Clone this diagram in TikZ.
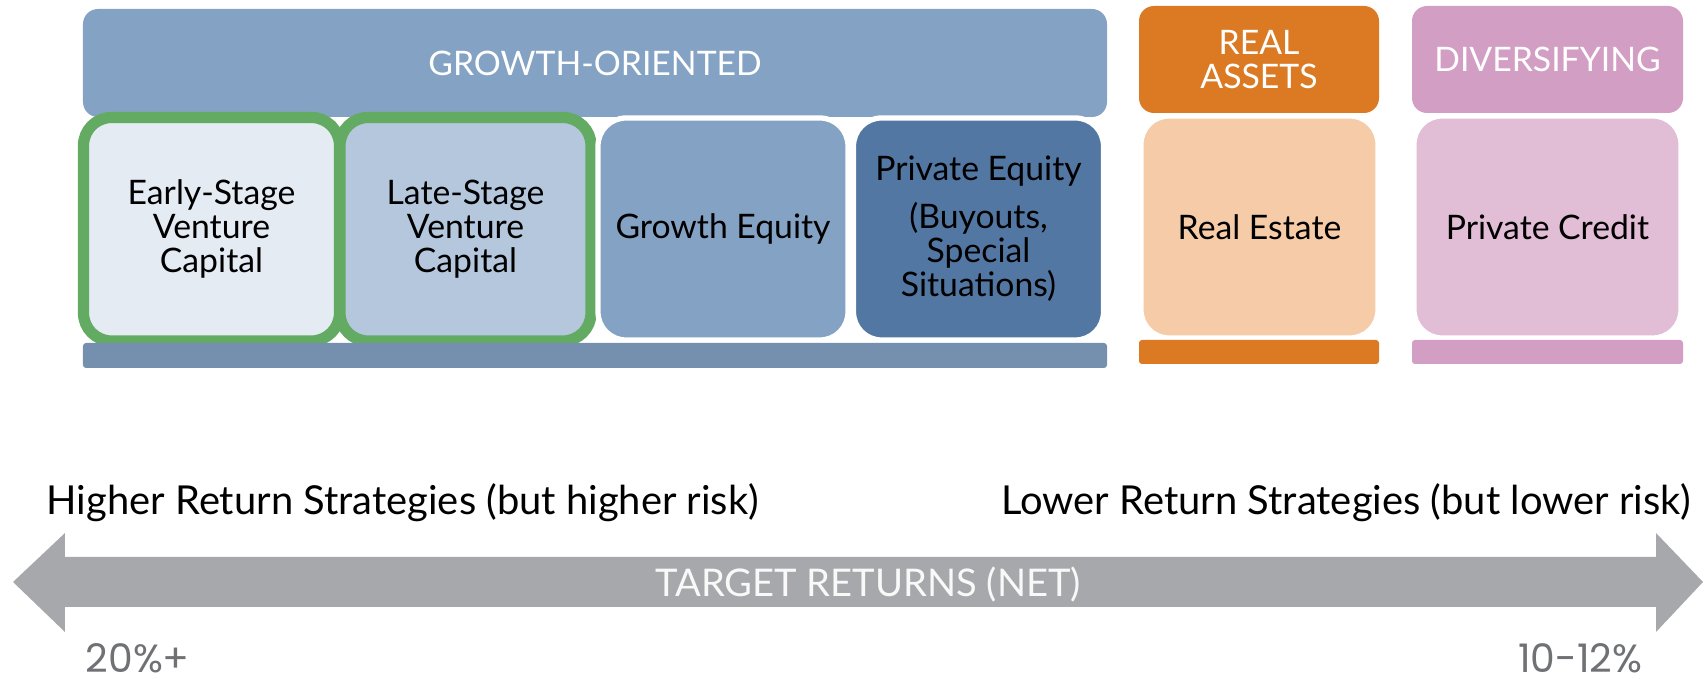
\documentclass[tikz,border=0pt]{standalone}
\usepackage{fontspec}
\setmainfont{Lato}
\newfontfamily\pctfont{Poppins}

\definecolor{growthblue}{HTML}{84A2C4}
\definecolor{growthbar}{HTML}{7490AE}
\definecolor{earlyfill}{HTML}{E4EBF3}
\definecolor{latefill}{HTML}{B4C7DC}
\definecolor{vcgreen}{HTML}{63AB63}
\definecolor{peblue}{HTML}{5277A3}
\definecolor{realorange}{HTML}{DB7A22}
\definecolor{realfill}{HTML}{F6CBA7}
\definecolor{divpink}{HTML}{D39EC3}
\definecolor{divfill}{HTML}{E2BDD6}
\definecolor{arrowgray}{HTML}{A7A8AB}
\definecolor{pctgray}{HTML}{707175}

\tikzset{
  header/.style={rounded corners=0.15cm, inner sep=0pt, text=white, align=center,
    font=\fontsize{9.6}{9.7}\selectfont},
  cell/.style={rounded corners=0.28cm, draw=white, line width=1.5pt, inner sep=0pt,
    align=center, font=\fontsize{9.6}{9.7}\selectfont},
  vccell/.style={cell, draw=vcgreen, line width=3.2pt},
  base/.style={rounded corners=0.03cm, inner sep=0pt},
  side/.style={font=\fontsize{11.35}{13}\selectfont, inner sep=0pt},
  pct/.style={font=\pctfont\fontsize{11.2}{12}\selectfont, text=pctgray, inner sep=0pt,
    text depth=0pt}
}

\begin{document}
\begin{tikzpicture}
    \useasboundingbox (0,0) rectangle (17.05,-6.79);

    %%%%%%%% Headers %%%%%%%%
    \node[header, fill=growthblue, minimum width=10.24cm, minimum height=1.08cm] (growth) at (5.95,-0.63) {GROWTH-ORIENTED};
    \node[header, fill=realorange, minimum width=2.40cm, minimum height=1.07cm] (real) at (12.59,-0.595) {REAL\\ASSETS};
    \node[header, fill=divpink, minimum width=2.71cm, minimum height=1.07cm] (divers) at (15.475,-0.595) {DIVERSIFYING};

    %%%%%%%% Strategies %%%%%%%%
    \node[vccell, fill=earlyfill, minimum width=2.56cm, minimum height=2.235cm] (early) at (2.115,-2.2925) {Early-Stage\\Venture\\Capital};
    \node[vccell, fill=latefill, minimum width=2.51cm, minimum height=2.235cm] (late) at (4.655,-2.2925) {Late-Stage\\Venture\\Capital};
    \node[cell, fill=growthblue, minimum width=2.50cm, minimum height=2.22cm] (geq) at (7.23,-2.29) {Growth Equity};
    \node[cell, fill=peblue, minimum width=2.50cm, minimum height=2.22cm] (peq) at (9.785,-2.29) {Private Equity\\[4pt](Buyouts,\\Special\\Situations)};
    \node[cell, fill=realfill, minimum width=2.37cm, minimum height=2.22cm] (estate) at (12.595,-2.27) {Real Estate};
    \node[cell, fill=divfill, minimum width=2.67cm, minimum height=2.22cm] (credit) at (15.475,-2.27) {Private Credit};

    %%%%%%%% Bases %%%%%%%%
    \node[base, fill=growthbar, minimum width=10.24cm, minimum height=0.25cm] (growthbase) at (5.95,-3.555) {};
    \node[base, fill=realorange, minimum width=2.40cm, minimum height=0.24cm] (realbase) at (12.59,-3.52) {};
    \node[base, fill=divpink, minimum width=2.71cm, minimum height=0.24cm] (diversbase) at (15.475,-3.52) {};

    %%%%%%%% Returns arrow %%%%%%%%
    \fill[arrowgray] (0.13,-5.82) -- (0.65,-5.33) -- (0.65,-5.57) -- (16.56,-5.57)
        -- (16.56,-5.33) -- (17.03,-5.82) -- (16.56,-6.32) -- (16.56,-6.07)
        -- (0.65,-6.07) -- (0.65,-6.32) -- cycle;
    \node[side, font=\fontsize{10.85}{13}\selectfont, text=white!93!arrowgray] (target) at (8.68,-5.85) {TARGET RETURNS (NET)};

    %%%%%%%% Captions %%%%%%%%
    \node[side, anchor=base west] (higher) at (0.46,-5.15) {Higher Return Strategies (but higher risk)};
    \node[side, anchor=base east] (lower) at (16.92,-5.15) {Lower Return Strategies (but lower risk)};
    \node[pct, anchor=base west] (high) at (0.85,-6.73) {20\%+};
    \node[pct, anchor=base east] (low) at (16.43,-6.73) {10-12\%};
\end{tikzpicture}
\end{document}
